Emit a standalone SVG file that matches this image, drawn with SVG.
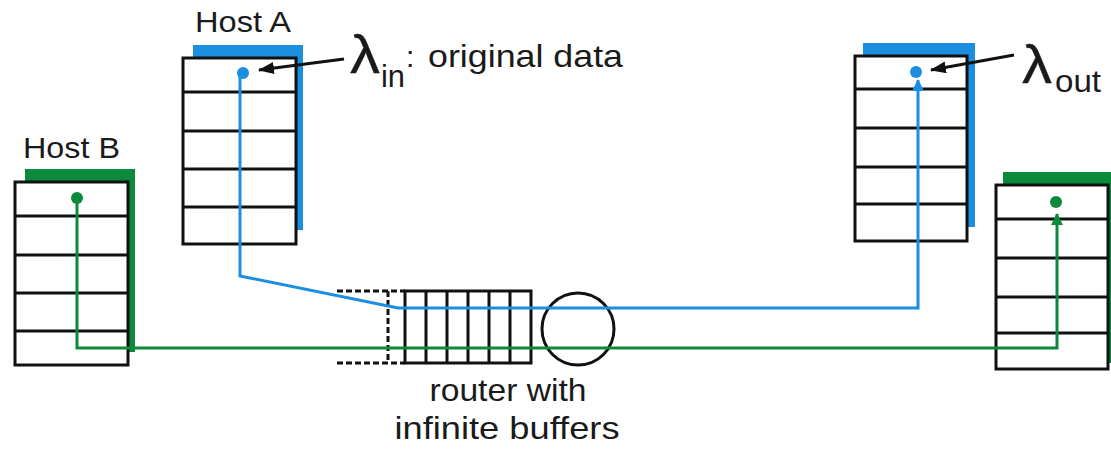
<svg xmlns="http://www.w3.org/2000/svg" width="1111" height="449" viewBox="0 0 1111 449">
<defs>
<style>
.box{fill:#fff;stroke:#111;stroke-width:3}
.div{stroke:#111;stroke-width:3}
.blue{fill:#1b8ee0}
.green{fill:#0a8a3a}
.t{font-family:"Liberation Sans",Arial,sans-serif;fill:#1a1a1a}
.lam{font-family:"Liberation Sans",Arial,sans-serif;fill:#1a1a1a;stroke:#1a1a1a;stroke-width:0.3}
.wire{fill:none;stroke-width:3;stroke-linejoin:miter}
</style>
<marker id="ab" viewBox="0 0 12 12" refX="11" refY="6" markerWidth="12" markerHeight="12" markerUnits="userSpaceOnUse" orient="auto"><path d="M0,0 L12,6 L0,12 Z" fill="#1b8ee0"/></marker>
<marker id="ag" viewBox="0 0 12 12" refX="11" refY="6" markerWidth="12" markerHeight="12" markerUnits="userSpaceOnUse" orient="auto"><path d="M0,0 L12,6 L0,12 Z" fill="#0a8a3a"/></marker>
<marker id="ak" viewBox="0 0 16 12" refX="15" refY="6" markerWidth="16" markerHeight="12" markerUnits="userSpaceOnUse" orient="auto"><path d="M0,0 L16,6 L0,12 Z" fill="#111"/></marker>
</defs>
<rect width="1111" height="449" fill="#fff"/>

<g id="hostA">
<rect class="blue" x="193" y="45" width="110" height="185"/>
<rect class="box" x="183" y="58" width="113" height="186"/>
<path class="div" d="M183,92H296M183,131H296M183,169H296M183,207H296"/>
<circle class="blue" cx="243" cy="73" r="6"/>
<text class="t" x="195" y="32" font-size="29" textLength="96" lengthAdjust="spacingAndGlyphs">Host A</text>
</g>

<g id="hostB">
<rect class="green" x="25" y="169" width="110" height="183"/>
<rect class="box" x="15" y="182" width="113" height="183"/>
<path class="div" d="M15,216H128M15,255H128M15,293H128M15,331H128"/>
<circle class="green" cx="77" cy="198" r="6"/>
<text class="t" x="23" y="158" font-size="29" textLength="97" lengthAdjust="spacingAndGlyphs">Host B</text>
</g>

<g id="hostC">
<rect class="blue" x="863" y="43" width="112" height="184"/>
<rect class="box" x="855" y="56" width="112" height="185"/>
<path class="div" d="M855,89H967M855,128H967M855,167H967M855,204H967"/>
<circle class="blue" cx="916" cy="72" r="6"/>
</g>

<g id="hostD">
<rect class="green" x="1003" y="172" width="112" height="191"/>
<rect class="box" x="996" y="185" width="112" height="184"/>
<path class="div" d="M996,219H1108M996,258H1108M996,297H1108M996,333H1108"/>
<circle class="green" cx="1056" cy="202" r="6"/>
</g>

<g id="router">
<path d="M337,291H405M337,363H405M388,291V363" fill="none" stroke="#111" stroke-width="3" stroke-dasharray="6,3"/>
<rect x="405" y="291" width="126" height="72" fill="#fff" stroke="#111" stroke-width="3"/>
<path class="div" d="M426,291V363M447,291V363M468,291V363M489,291V363M510,291V363"/>
<circle cx="578" cy="329" r="36" fill="none" stroke="#111" stroke-width="3"/>
<text class="t" x="508" y="401" font-size="32" text-anchor="middle" textLength="157" lengthAdjust="spacingAndGlyphs">router with</text>
<text class="t" x="507" y="439" font-size="32" text-anchor="middle" textLength="225" lengthAdjust="spacingAndGlyphs">infinite buffers</text>
</g>

<g id="labels">
<text class="lam" x="350" y="73" font-size="54" textLength="30" lengthAdjust="spacingAndGlyphs">λ</text>
<text class="t" x="381" y="87" font-size="32" textLength="24" lengthAdjust="spacingAndGlyphs">in</text>
<text class="t" x="406" y="67" font-size="30">:</text>
<text class="t" x="428" y="67" font-size="32" textLength="195" lengthAdjust="spacingAndGlyphs">original data</text>
<text class="lam" x="1022" y="83" font-size="54" textLength="30" lengthAdjust="spacingAndGlyphs">λ</text>
<text class="t" x="1055" y="92" font-size="32" textLength="46" lengthAdjust="spacingAndGlyphs">out</text>
</g>

<g id="connectors">
<path class="wire" stroke="#1b8ee0" d="M240,73 V276 L398,308 H918 V80" marker-end="url(#ab)"/>
<path class="wire" stroke="#0a8a3a" d="M77,198 V348 H1057 V214" marker-end="url(#ag)"/>
<line x1="344" y1="59" x2="259" y2="70" stroke="#111" stroke-width="3" marker-end="url(#ak)"/>
<line x1="1014" y1="55" x2="931" y2="70" stroke="#111" stroke-width="3" marker-end="url(#ak)"/>
</g>
</svg>
